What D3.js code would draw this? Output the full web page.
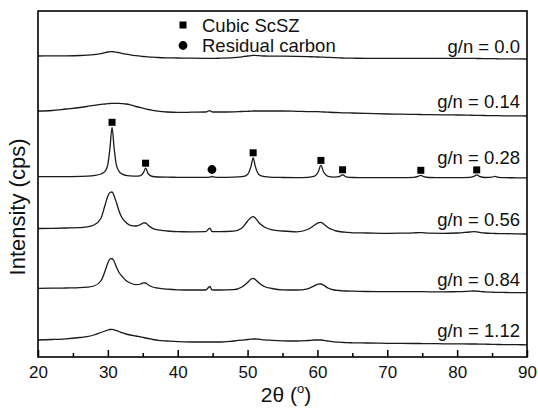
<!DOCTYPE html>
<html>
<head>
<meta charset="utf-8">
<script src="https://cdn.jsdelivr.net/npm/d3@7"></script>
<style>
  body { margin: 0; background: #fff; }
  svg { display: block; font-family: "Liberation Sans", Arial, Helvetica, sans-serif; }
</style>
</head>
<body>
<svg width="538" height="408"></svg>
<script>
// 2theta grid (deg), shared by all patterns
var twoTheta = [20,22,24,26,27,28,29,
  29.6,30.0,30.3,30.6,30.9,31.2,31.6,32.0,
  32.6,33.2,34.0,34.7,35.1,35.4,35.8,36.4,
  37.2,38.5,40,42,44,44.6,44.9,45.3,
  46,48,49.2,50.0,50.5,50.8,51.1,51.6,
  52.4,53.5,55,57,58.6,59.6,60.1,60.5,
  60.9,61.5,62.4,63.1,63.6,64.1,65,67,
  70,72,73.8,74.5,74.8,75.2,76,78,
  80,81.8,82.4,82.8,83.2,84,85,85.4,
  85.9,87,88.5,90];

// intensities (cps) above each pattern's own offset
var gn000 = [30,31,32,35,38,43,53,
  63,70,73,74,72,69,63,57,
  49,42,34,28,25,23,21,18,
  15,12,10,8,7,7,7,7,
  8,13,22,30,34,36,36,34,
  30,28,28,27,24,21,20,19,
  18,16,13,11,10,9,8,7,
  7,7,7,7,7,7,7,6,
  6,6,6,5,5,4,3,3,
  2,1,1,0];
var gn014 = [50,55,70,85,95,107,116,
  120,123,125,126,127,127,126,124,
  120,112,95,83,77,72,65,57,
  48,40,36,38,40,53,42,40,
  40,42,45,47,49,50,50,50,
  50,50,50,47,44,43,43,42,
  40,38,35,33,32,31,30,26,
  20,18,16,15,15,14,13,11,
  10,8,7,7,6,5,4,4,
  3,2,1,0];
var gn028 = [13,13,14,16,18,24,40,
  66,137,297,507,297,137,67,41,
  26,21,18,24,53,98,40,15,
  10,8,7,6,6,9,15,8,
  6,8,13,36,119,202,119,36,
  13,7,5,4,7,19,57,126,
  57,17,9,13,32,11,5,3,
  3,3,6,18,27,14,5,3,
  3,6,17,31,17,5,9,16,
  6,3,2,1];
var gn056 = [55,57,60,63,72,90,155,
  290,380,415,420,380,320,230,165,
  115,87,80,95,112,110,85,57,
  42,30,23,22,23,58,25,23,
  23,28,60,130,165,173,160,115,
  70,42,30,22,45,90,112,117,
  100,65,37,25,20,17,12,10,
  7,8,11,14,14,12,8,7,
  10,20,23,22,17,10,6,5,
  4,3,2,0];
var gn084 = [47,48,50,53,58,70,120,
  220,300,340,345,315,265,205,170,
  125,100,83,90,102,100,80,60,
  48,38,32,30,30,65,32,30,
  30,33,60,105,140,147,135,103,
  65,45,32,30,42,73,88,90,
  78,50,30,25,22,20,18,15,
  13,13,13,14,14,13,12,12,
  13,18,20,19,16,12,8,7,
  6,5,3,3];
var gn112 = [50,55,62,75,83,100,125,
  140,150,155,157,152,145,135,123,
  110,100,90,80,75,70,65,55,
  47,40,33,30,30,30,30,30,
  30,40,48,55,58,60,60,58,
  52,47,42,40,45,50,50,50,
  46,40,32,28,26,24,22,20,
  17,16,15,15,15,14,14,12,
  11,10,10,10,9,8,7,6,
  5,4,3,2];

var seriesNames = ["g/n = 0.0", "g/n = 0.14", "g/n = 0.28", "g/n = 0.56", "g/n = 0.84", "g/n = 1.12"];
var offsets = [2980, 2410, 1790, 1230, 640, 120];   // vertical shift of each pattern (cps)
var allSeries = [gn000, gn014, gn028, gn056, gn084, gn112];

// peak assignments on the g/n = 0.28 pattern
var cubicPeaks = [30.6, 35.4, 50.8, 60.5, 63.6, 74.8, 82.8];
var carbonPeaks = [44.9];

var xTicks = [20, 30, 40, 50, 60, 70, 80, 90];
var xMinorTicks = [25, 35, 45, 55, 65, 75, 85];

// layout
var margin = { top: 11, right: 11, bottom: 51, left: 38 };
var width = 538, height = 408;
var labelLift = [6, 8.5, 14, 8.3, 7.3, 7.7];

var svg = d3.select("svg");

var x = d3.scaleLinear()
    .domain([20, 90])
    .range([margin.left, width - margin.right]);

var y = d3.scaleLinear()
    .domain([0, 3460])
    .range([height - margin.bottom, margin.top]);

var line = d3.line()
    .x(function(d){ return x(d[0]); })
    .y(function(d){ return y(d[1]); })
    .curve(d3.curveMonotoneX);

// patterns
allSeries.forEach(function(vals, i){
    var pts = twoTheta.map(function(t, j){ return [t, vals[j] + offsets[i]]; });
    svg.append("path")
        .attr("d", line(pts))
        .attr("fill", "none")
        .attr("stroke", "#1a1a1a")
        .attr("stroke-width", 1.3);

    svg.append("text")
        .attr("x", x(89))
        .attr("y", y(offsets[i]) - labelLift[i])
        .attr("text-anchor", "end")
        .attr("font-size", "18.5px")
        .attr("fill", "#111")
        .text(seriesNames[i]);
});

// markers on the 0.28 pattern
function valueAt(t){
    var j = twoTheta.indexOf(t);
    return gn028[j] + offsets[2];
}

svg.selectAll("rect.cubic")
    .data(cubicPeaks)
    .enter()
    .append("rect")
    .attr("class", "cubic")
    .attr("x", function(d){ return x(d) - 3.5; })
    .attr("y", function(d){ return y(valueAt(d)) - 5 - 3.5; })
    .attr("width", 7)
    .attr("height", 7)
    .attr("fill", "#000");

svg.selectAll("circle.carbon")
    .data(carbonPeaks)
    .enter()
    .append("circle")
    .attr("class", "carbon")
    .attr("cx", function(d){ return x(d); })
    .attr("cy", function(d){ return y(valueAt(d)) - 7; })
    .attr("r", 4.4)
    .attr("fill", "#000");

// legend
svg.append("rect").attr("x", 179.5).attr("y", 21.5).attr("width", 7).attr("height", 7).attr("fill", "#000");
svg.append("text").attr("x", 202).attr("y", 31.5).attr("font-size", "18.5px").attr("fill", "#111").text("Cubic ScSZ");
svg.append("circle").attr("cx", 183).attr("cy", 45.5).attr("r", 4.4).attr("fill", "#000");
svg.append("text").attr("x", 202).attr("y", 51.5).attr("font-size", "18.5px").attr("fill", "#111").text("Residual carbon");

// x axis, ticks pointing inward
var xAxis = d3.axisBottom(x)
    .tickValues(xTicks)
    .tickSizeInner(-7)
    .tickSizeOuter(0)
    .tickPadding(9)
    .tickFormat(d3.format("d"));

var gx = svg.append("g")
    .attr("transform", "translate(0," + (height - margin.bottom) + ")")
    .call(xAxis);
gx.select(".domain").remove();
gx.selectAll(".tick line").attr("stroke", "#000").attr("stroke-width", 1.5);
gx.selectAll(".tick text")
    .attr("font-size", "17px")
    .attr("font-family", "'Liberation Sans', Arial, sans-serif")
    .attr("fill", "#111");

var gxMinor = svg.append("g")
    .attr("transform", "translate(0," + (height - margin.bottom) + ")")
    .call(d3.axisBottom(x).tickValues(xMinorTicks).tickSizeInner(-4).tickSizeOuter(0).tickFormat(""));
gxMinor.select(".domain").remove();
gxMinor.selectAll(".tick line").attr("stroke", "#000").attr("stroke-width", 1.5);

// frame
svg.append("rect")
    .attr("x", margin.left)
    .attr("y", margin.top)
    .attr("width", width - margin.left - margin.right)
    .attr("height", height - margin.top - margin.bottom)
    .attr("fill", "none")
    .attr("stroke", "#000")
    .attr("stroke-width", 1.6);

// axis titles
var xt = svg.append("text")
    .attr("x", 286)
    .attr("y", 402)
    .attr("text-anchor", "middle")
    .attr("font-size", "21px")
    .attr("fill", "#111");
xt.append("tspan").text("2\u03B8 (");
xt.append("tspan").attr("font-size", "13px").attr("dy", -9).text("o");
xt.append("tspan").attr("dy", 9).text(")");

svg.append("text")
    .attr("transform", "translate(25,207) rotate(-90)")
    .attr("text-anchor", "middle")
    .attr("font-size", "22px")
    .attr("fill", "#111")
    .text("Intensity (cps)");
</script>
</body>
</html>
